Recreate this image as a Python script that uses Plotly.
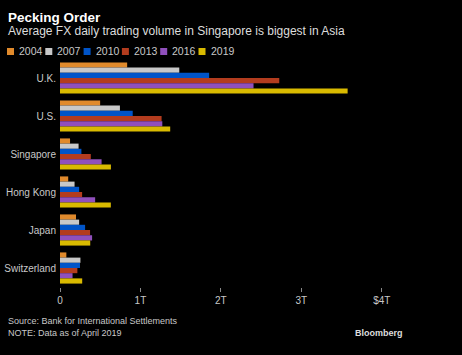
import plotly.graph_objects as go

countries = ["U.K.", "U.S.", "Singapore", "Hong Kong", "Japan", "Switzerland"]
years = ["2004", "2007", "2010", "2013", "2016", "2019"]
# trillions of USD
v2004 = [0.835, 0.499, 0.125, 0.102, 0.199, 0.079]
v2007 = [1.483, 0.745, 0.231, 0.181, 0.238, 0.254]
v2010 = [1.854, 0.904, 0.266, 0.238, 0.312, 0.249]
v2013 = [2.726, 1.263, 0.383, 0.275, 0.374, 0.216]
v2016 = [2.406, 1.272, 0.517, 0.437, 0.399, 0.156]
v2019 = [3.576, 1.370, 0.633, 0.632, 0.376, 0.276]
series = [v2004, v2007, v2010, v2013, v2016, v2019]
colors = ["#E08A2C", "#C8C8C8", "#0054C8", "#B33C1E", "#9050BC", "#D9BA00"]
tick_vals = [0, 1, 2, 3, 4]
tick_text = ["0", "1T", "2T", "3T", "$4T"]

W, H = 462, 355
L, R, T, B = 60, 32, 59, 68
pw = W - L - R
ph = H - T - B

def px_x(x):
    return (x - L) / pw

def px_y(y):
    return 1 - (y - T) / ph

font = "Liberation Sans, Arial, sans-serif"

fig = go.Figure()
for yr, vals, c in zip(years, series, colors):
    fig.add_trace(go.Bar(y=countries, x=vals, name=yr, orientation="h",
                         marker=dict(color=c, line=dict(width=0))))

# custom legend (squares + labels) laid out in a row
shapes = []
annotations = []
for i, (yr, c) in enumerate(zip(years, colors)):
    x0 = 7 + i * 38.3
    shapes.append(dict(type="rect", xref="paper", yref="paper",
                       x0=px_x(x0), x1=px_x(x0 + 7), y0=px_y(55), y1=px_y(48),
                       fillcolor=c, line=dict(width=0)))
    annotations.append(dict(text=yr, x=px_x(x0 + 10), y=px_y(51.5), xref="paper", yref="paper",
                            xanchor="left", yanchor="middle", showarrow=False,
                            font=dict(size=10.5, color="#C8C8C8", family=font)))

annotations += [
    dict(text="<b>Pecking Order</b>", x=px_x(6), y=px_y(17), xref="paper", yref="paper",
         xanchor="left", yanchor="middle", showarrow=False,
         font=dict(size=13.5, color="white", family=font)),
    dict(text="Average FX daily trading volume in Singapore is biggest in Asia",
         x=px_x(6), y=px_y(31), xref="paper", yref="paper",
         xanchor="left", yanchor="middle", showarrow=False,
         font=dict(size=12, color="#DDDDDD", family=font)),
    dict(text="Source: Bank for International Settlements<br>NOTE: Data as of April 2019",
         x=px_x(6), y=px_y(314), xref="paper", yref="paper",
         xanchor="left", yanchor="top", showarrow=False, align="left",
         font=dict(size=9, color="#C8C8C8", family=font)),
    dict(text="<b>Bloomberg</b>", x=px_x(405), y=px_y(333), xref="paper", yref="paper",
         xanchor="right", yanchor="middle", showarrow=False,
         font=dict(size=9, color="#DDDDDD", family=font)),
]

fig.update_layout(
    width=W, height=H,
    margin=dict(l=L, r=R, t=T, b=B, autoexpand=False),
    paper_bgcolor="black", plot_bgcolor="black",
    barmode="group", bargap=0.18, bargroupgap=0,
    font=dict(family=font, color="#C8C8C8", size=10),
    showlegend=False,
    xaxis=dict(range=[0, 4.6], tickvals=tick_vals, ticktext=tick_text,
               showgrid=False, zeroline=False, showline=False, automargin=False,
               ticks="outside", ticklen=4, tickcolor="#888888",
               tickfont=dict(size=10, color="#C8C8C8")),
    yaxis=dict(autorange="reversed", showgrid=False, zeroline=False, automargin=False,
               showline=False, ticks="", ticklabelstandoff=3,
               tickfont=dict(size=10, color="#C8C8C8")),
    shapes=shapes,
    annotations=annotations,
)

fig.write_html("out.html", config={"displayModeBar": False},
               post_script="document.body.style.margin='0';document.body.style.background='black';")
